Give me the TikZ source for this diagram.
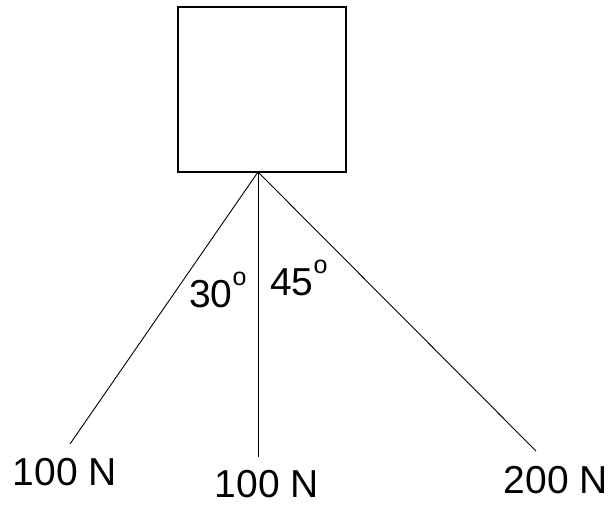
\documentclass[tikz,border=0pt]{standalone}
\usepackage{fontspec}
\setmainfont{Liberation Sans}
\begin{document}
\begin{tikzpicture}[x=1pt,y=-1pt,
  lbl/.style={inner sep=0pt,text depth=0pt,font=\fontsize{39}{40}\selectfont},
  force/.style={line width=0.9pt}]
\useasboundingbox (0,0) rectangle (616,504);
\node[draw,line width=1.6pt,minimum width=168pt,minimum height=165pt,inner sep=0pt] (box) at (262,89.5) {};
\coordinate (apex) at (258,172);
\coordinate (e1) at (70,444);
\coordinate (e2) at (258,457);
\coordinate (e3) at (536,451);
\draw[force] (apex) -- (e1);
\draw[force] (apex) -- (e2);
\draw[force] (apex) -- (e3);
\node[lbl,anchor=base] (l1) at (65,485) {100 N};
\node[lbl,anchor=base] (l2) at (267,497) {100 N};
\node[lbl,anchor=base] (l3) at (556,493) {200 N};
\node[lbl,anchor=base west] (a30) at (189,307) {30\raisebox{0.55em}{\fontsize{25}{25}\selectfont o}};
\node[lbl,anchor=base west] (a45) at (270,295) {45\raisebox{0.55em}{\fontsize{25}{25}\selectfont o}};
\end{tikzpicture}
\end{document}
